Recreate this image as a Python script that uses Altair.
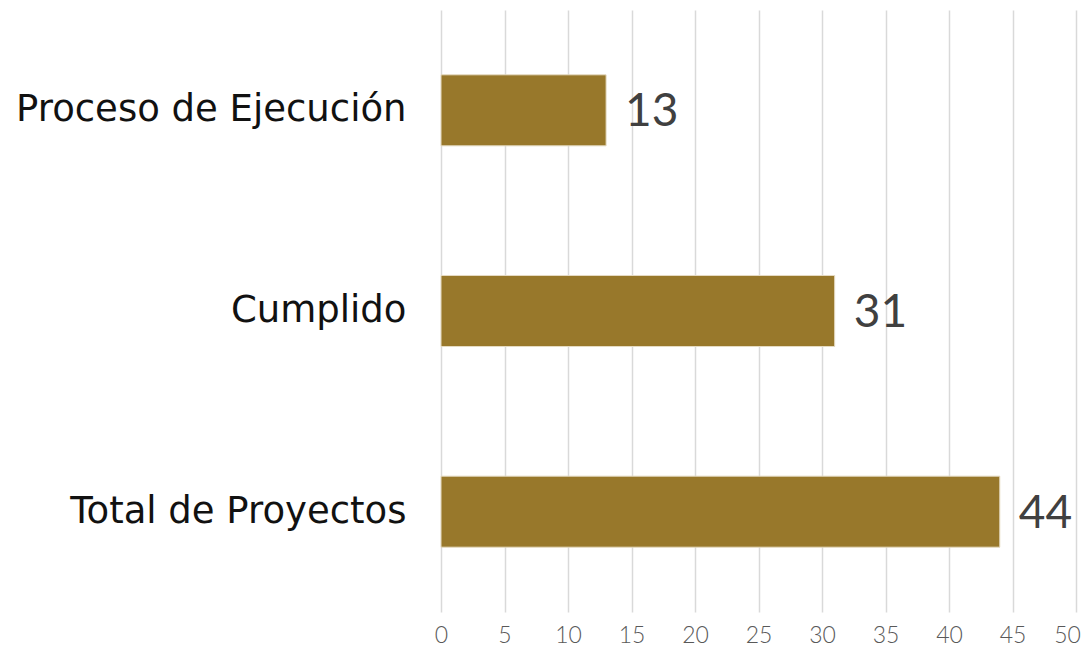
import altair as alt
import pandas as pd

categories = ["Proceso de Ejecución", "Cumplido", "Total de Proyectos"]
values = [13, 31, 44]
x_ticks = [0, 5, 10, 15, 20, 25, 30, 35, 40, 45, 50]

df = pd.DataFrame({"categoria": categories, "valor": values})

y_enc = alt.Y(
    "categoria:N",
    sort=categories,
    title=None,
    scale=alt.Scale(paddingInner=0.646, paddingOuter=0.323),
    axis=alt.Axis(
        domain=False,
        ticks=False,
        grid=False,
        labelFont="DejaVu Sans",
        labelFontSize=37,
        labelColor="#111111",
        labelPadding=35,
        labelLimit=500,
    ),
)

x_enc = alt.X(
    "valor:Q",
    title=None,
    scale=alt.Scale(domain=[0, 50], nice=False),
    axis=alt.Axis(
        values=x_ticks,
        domain=False,
        ticks=False,
        grid=True,
        gridColor="#d9d9d9",
        gridWidth=1.5,
        labelFont="Lato",
        labelFontWeight=300,
        labelFontSize=23,
        labelColor="#595959",
        labelPadding=12,
        labelFlush=False,
        labelOffset={"expr": "datum.value == 50 ? -9 : 0"},
    ),
)

bars = alt.Chart(df).mark_bar(
    color="#98782B", stroke="#e6dcc4", strokeWidth=1
).encode(x=x_enc, y=y_enc)

labels = alt.Chart(df).mark_text(
    align="left", baseline="middle", dx=19, dy=2,
    font="Lato", fontSize=46, color="#404040"
).encode(x=alt.X("valor:Q"), y=alt.Y("categoria:N", sort=categories), text="valor:Q")

chart = (
    alt.layer(bars, labels)
    .properties(
        width=635,
        height=602,
        autosize=alt.AutoSizeParams(type="none"),
        padding={"left": 433, "top": 2, "right": 7, "bottom": 35},
        background="white",
    )
    .configure_view(stroke=None)
)

chart.save("out.html", embed_options={"renderer": "svg", "actions": False})
